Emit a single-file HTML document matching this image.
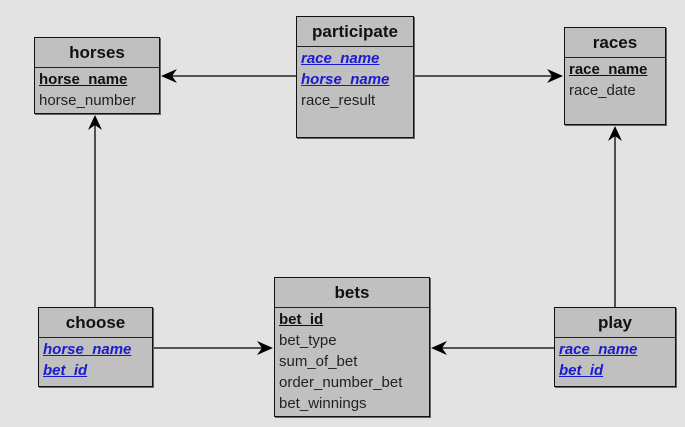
<!DOCTYPE html>
<html><head><meta charset="utf-8"><style>
html,body{margin:0;padding:0}
body{width:685px;height:427px;background:#e3e3e3;position:relative;overflow:hidden;font-family:"Liberation Sans",sans-serif}
.b{position:absolute;background:#c0c0c0;border:1px solid #111;box-sizing:border-box;box-shadow:1px 1px 0 #666}
.h{height:29px;border-bottom:1px solid #222;text-align:center;font-weight:bold;font-size:17px;line-height:30px;color:#111;margin-bottom:1px}
.r{font-size:15px;line-height:21px;padding-left:4px;color:#222;white-space:nowrap}
.pk{font-weight:bold;text-decoration:underline;color:#111}
.fk{font-weight:bold;font-style:italic;text-decoration:underline;color:#1a1ad0}
svg{position:absolute;left:0;top:0}
</style></head><body>
<svg width="685" height="427">
<g stroke="#000" stroke-width="1.3">
<line x1="296" y1="76" x2="163" y2="76"/>
<line x1="414" y1="76" x2="561" y2="76"/>
<line x1="95" y1="307" x2="95" y2="117"/>
<line x1="153" y1="348" x2="271" y2="348"/>
<line x1="615" y1="307" x2="615" y2="128"/>
<line x1="554" y1="348" x2="433" y2="348"/>
</g>
<g fill="#000">
<polygon points="161,76 177,69 172,76 177,83"/>
<polygon points="563,76 547,69 552,76 547,83"/>
<polygon points="95,115 88,130 95,125 102,130"/>
<polygon points="273,348 257,341 262,348 257,355"/>
<polygon points="615,126 608,141 615,136 622,141"/>
<polygon points="431,348 447,341 442,348 447,355"/>
</g>
</svg>
<div class="b" style="left:34px;top:37px;width:126px;height:77px"><div class="h">horses</div><div class="r pk">horse_name</div><div class="r">horse_number</div></div>
<div class="b" style="left:296px;top:16px;width:118px;height:122px"><div class="h">participate</div><div class="r fk">race_name</div><div class="r fk">horse_name</div><div class="r">race_result</div></div>
<div class="b" style="left:564px;top:27px;width:102px;height:98px"><div class="h">races</div><div class="r pk">race_name</div><div class="r">race_date</div></div>
<div class="b" style="left:38px;top:307px;width:115px;height:80px"><div class="h">choose</div><div class="r fk">horse_name</div><div class="r fk">bet_id</div></div>
<div class="b" style="left:274px;top:277px;width:156px;height:140px"><div class="h">bets</div><div class="r pk">bet_id</div><div class="r">bet_type</div><div class="r">sum_of_bet</div><div class="r">order_number_bet</div><div class="r">bet_winnings</div></div>
<div class="b" style="left:554px;top:307px;width:122px;height:80px"><div class="h">play</div><div class="r fk">race_name</div><div class="r fk">bet_id</div></div>
</body></html>
